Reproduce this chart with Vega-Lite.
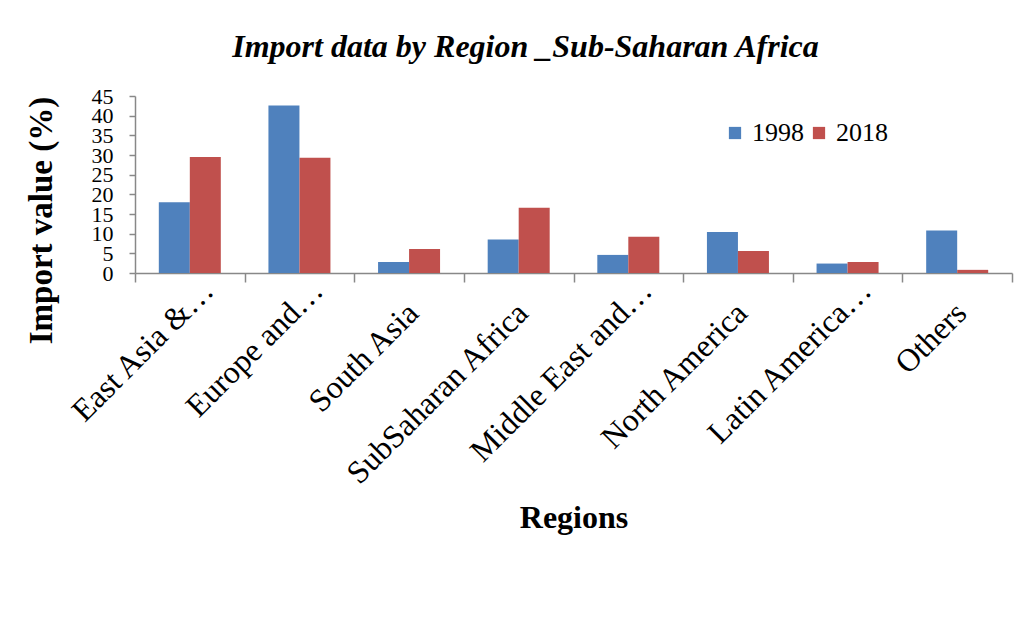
{
  "$schema": "https://vega.github.io/schema/vega-lite/v6.json",
  "autosize": {"type": "none"},
  "padding": {"left": 135, "top": 96, "right": 17, "bottom": 354},
  "width": 877,
  "height": 177,
  "background": "white",
  "title": {
    "text": "Import data by Region _Sub-Saharan Africa",
    "font": "Liberation Serif",
    "fontSize": 32,
    "fontWeight": "bold",
    "fontStyle": "italic",
    "color": "black",
    "anchor": "middle",
    "frame": "group",
    "dx": -48,
    "offset": 21
  },
  "data": {
    "values": [
      {"region": "East Asia &…", "year": "1998", "value": 18.0},
      {"region": "East Asia &…", "year": "2018", "value": 29.5},
      {"region": "Europe and…", "year": "1998", "value": 42.6},
      {"region": "Europe and…", "year": "2018", "value": 29.3},
      {"region": "South Asia", "year": "1998", "value": 2.8},
      {"region": "South Asia", "year": "2018", "value": 6.1},
      {"region": "SubSaharan Africa", "year": "1998", "value": 8.5},
      {"region": "SubSaharan Africa", "year": "2018", "value": 16.6},
      {"region": "Middle East and…", "year": "1998", "value": 4.6},
      {"region": "Middle East and…", "year": "2018", "value": 9.2},
      {"region": "North America", "year": "1998", "value": 10.4},
      {"region": "North America", "year": "2018", "value": 5.6},
      {"region": "Latin America…", "year": "1998", "value": 2.4},
      {"region": "Latin America…", "year": "2018", "value": 2.8},
      {"region": "Others", "year": "1998", "value": 10.8},
      {"region": "Others", "year": "2018", "value": 0.8}
    ]
  },
  "mark": {"type": "bar"},
  "encoding": {
    "x": {
      "field": "region",
      "type": "nominal",
      "sort": null,
      "scale": {"paddingInner": 0, "paddingOuter": 0},
      "axis": {
        "title": "Regions",
        "titleFont": "Liberation Serif",
        "titleFontSize": 32,
        "titleFontWeight": "bold",
        "titleColor": "black",
        "titleY": 254,
        "titleBaseline": "alphabetic",
        "labelAngle": -45,
        "labelAlign": "right",
        "labelBaseline": {"condition": {"test": "datum.label == 'Others' || datum.label == 'South Asia' || datum.label == 'SubSaharan Africa' || datum.label == 'North America'", "value": "top"}, "value": "bottom"},
        "labelFont": "Liberation Serif",
        "labelFontSize": 32,
        "labelColor": "black",
        "labelPadding": 15,
        "labelOffset": {"condition": {"test": "datum.label == 'Others' || datum.label == 'South Asia' || datum.label == 'SubSaharan Africa' || datum.label == 'North America'", "value": -7}, "value": 30},
        "labelOverlap": false,
        "labelLimit": 0,
        "tickBand": "extent",
        "tickSize": 9,
        "tickColor": "#888888",
        "tickWidth": 1.5,
        "domainColor": "#888888",
        "domainWidth": 1.5,
        "grid": false
      }
    },
    "xOffset": {
      "field": "year",
      "type": "nominal",
      "scale": {"paddingInner": 0, "paddingOuter": 0.768}
    },
    "y": {
      "field": "value",
      "type": "quantitative",
      "scale": {"domain": [0, 45]},
      "axis": {
        "title": "Import value (%)",
        "titleFont": "Liberation Serif",
        "titleFontSize": 33,
        "titleFontWeight": "bold",
        "titleColor": "black",
        "titleX": -94,
        "titleY": 124,
        "titleAlign": "center",
        "titleBaseline": "middle",
        "values": [0, 5, 10, 15, 20, 25, 30, 35, 40, 45],
        "labelFont": "Liberation Serif",
        "labelFontSize": 22,
        "labelColor": "black",
        "labelPadding": 16,
        "labelOverlap": false,
        "labelFlush": false,
        "tickSize": 6,
        "tickColor": "#888888",
        "tickWidth": 1.5,
        "domainColor": "#888888",
        "domainWidth": 1.5,
        "grid": false
      }
    },
    "color": {
      "field": "year",
      "type": "nominal",
      "scale": {"range": ["#4F81BD", "#C0504D"]},
      "legend": {
        "title": null,
        "orient": "none",
        "legendX": 587,
        "legendY": 24,
        "direction": "horizontal",
        "symbolType": "square",
        "symbolSize": 150,
        "symbolStrokeWidth": 0,
        "symbolOpacity": 1,
        "labelFont": "Liberation Serif",
        "labelFontSize": 26,
        "labelColor": "black",
        "labelOffset": 4,
        "columnPadding": 2
      }
    }
  },
  "config": {"view": {"stroke": null}}
}
